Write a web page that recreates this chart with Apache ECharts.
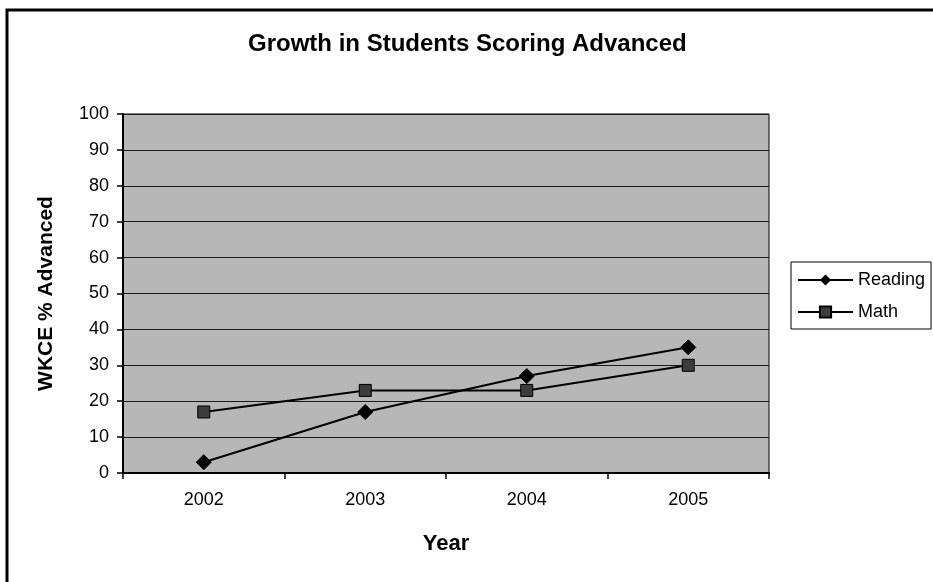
<!DOCTYPE html>
<html>
<head>
<meta charset="utf-8">
<title>Growth in Students Scoring Advanced</title>
<script src="https://cdn.jsdelivr.net/npm/echarts@6/dist/echarts.min.js"></script>
<style>
  html, body { margin: 0; padding: 0; background: #fff; }
  #chart { width: 933px; height: 582px; }
</style>
</head>
<body>
<div id="chart"></div>
<script>
// data
var years = ['2002', '2003', '2004', '2005'];
var reading = [3, 17, 27, 35];
var math = [17, 23, 23, 30];

var font = '"Liberation Sans", Arial, sans-serif';

var chart = echarts.init(document.getElementById('chart'));

var option = {
    backgroundColor: '#fff',
    animation: false,
    title: {
        text: 'Growth in Students Scoring Advanced',
        left: 243,
        top: 27,
        textStyle: { fontFamily: font, fontSize: 24, fontWeight: 'bold', color: '#000' }
    },
    graphic: [
        // outer frame of the chart (right/bottom edge cut off)
        {
            type: 'rect',
            shape: { x: 7, y: 10, width: 1000, height: 1000 },
            style: { fill: 'none', stroke: '#000', lineWidth: 3 },
            silent: true
        }
    ],
    legend: {
        orient: 'vertical',
        left: 791,
        top: 262,
        padding: [9, 6, 8, 6],
        itemGap: 14,
        itemWidth: 55,
        itemHeight: 14,
        borderColor: '#000',
        borderWidth: 1,
        backgroundColor: '#fff',
        textStyle: { fontFamily: font, fontSize: 18, color: '#000' },
        data: ['Reading', 'Math']
    },
    grid: {
        left: 123,
        right: 164,
        top: 114,
        bottom: 109,
        show: true,
        backgroundColor: '#b7b7b7',
        borderColor: '#000',
        borderWidth: 1
    },
    xAxis: {
        type: 'category',
        data: years,
        boundaryGap: true,
        name: 'Year',
        nameLocation: 'middle',
        nameGap: 60,
        nameTextStyle: { fontFamily: font, fontSize: 22, fontWeight: 'bold', color: '#000' },
        axisLine: { lineStyle: { color: '#000', width: 2 } },
        axisTick: { show: true, length: 6, lineStyle: { color: '#000', width: 1.5 } },
        axisLabel: { margin: 18, fontFamily: font, fontSize: 18, color: '#000' },
        splitLine: { show: false }
    },
    yAxis: {
        type: 'value',
        min: 0,
        max: 100,
        interval: 10,
        name: 'WKCE % Advanced',
        nameLocation: 'middle',
        nameRotate: 90,
        nameGap: 66,
        nameTextStyle: { fontFamily: font, fontSize: 21, fontWeight: 'bold', color: '#000' },
        axisLine: { show: true, lineStyle: { color: '#000', width: 2 } },
        axisTick: { show: true, length: 6, lineStyle: { color: '#000', width: 1.5 } },
        axisLabel: { margin: 14, fontFamily: font, fontSize: 18, color: '#000' },
        splitLine: { show: true, lineStyle: { color: '#1a1a1a', width: 1 } }
    },
    series: [
        {
            name: 'Reading',
            type: 'line',
            data: reading,
            symbol: 'diamond',
            symbolSize: 15,
            lineStyle: { color: '#000', width: 2 },
            itemStyle: { color: '#000', borderColor: '#000' }
        },
        {
            name: 'Math',
            type: 'line',
            data: math,
            symbol: 'rect',
            symbolSize: 12,
            lineStyle: { color: '#000', width: 2 },
            itemStyle: { color: '#3c3c3c', borderColor: '#000', borderWidth: 1 }
        }
    ]
};

chart.setOption(option);
</script>
</body>
</html>
